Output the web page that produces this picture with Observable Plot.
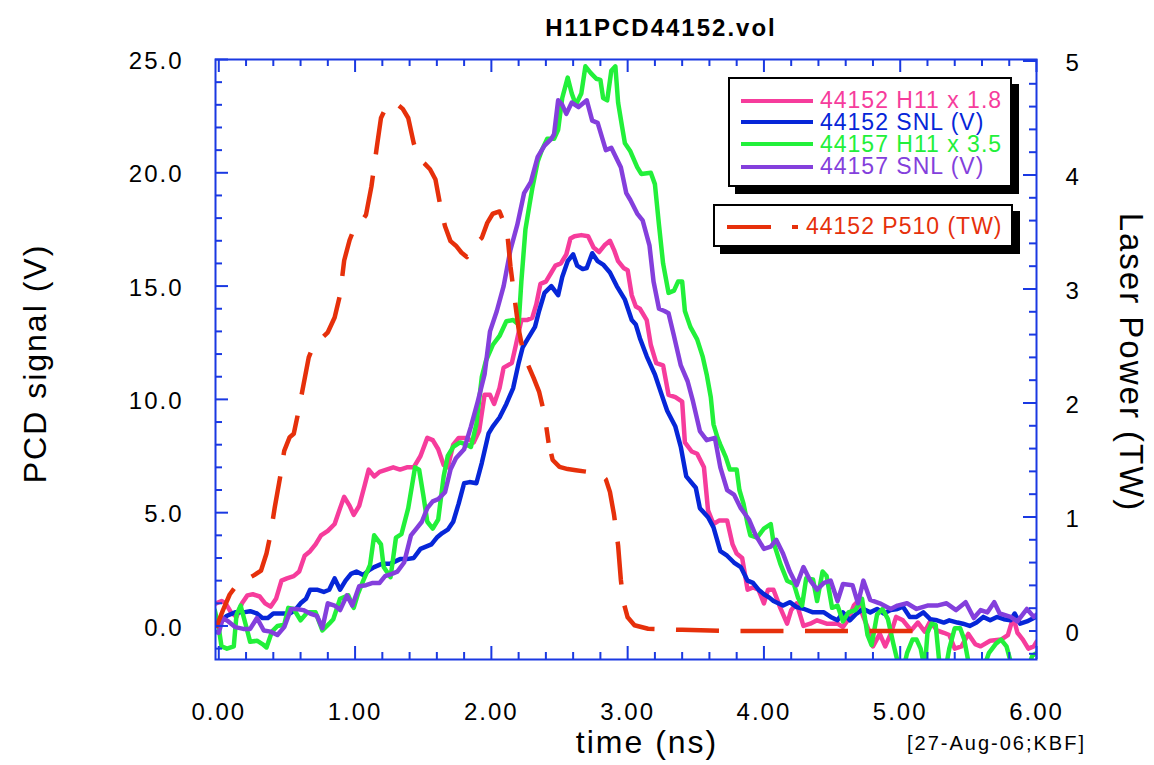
<!DOCTYPE html>
<html>
<head>
<meta charset="utf-8">
<script src="https://cdn.jsdelivr.net/npm/d3@7"></script>
<script src="https://cdn.jsdelivr.net/npm/@observablehq/plot@0.6"></script>
<style>
  html, body { margin: 0; padding: 0; background: #fff; }
  #wrap { position: relative; width: 1154px; height: 765px; font-family: "Liberation Sans", Arial, Helvetica, sans-serif; }
  .box { position: absolute; background: #fff; border: 2px solid #000; box-shadow: 7px 7px 0 #000; box-sizing: border-box; }
  .sw { position: absolute; height: 4px; }
  .lt { position: absolute; font-size: 23px; letter-spacing: 1px; line-height: 21px; height: 21px; white-space: nowrap; }
</style>
</head>
<body>
<div id="wrap"></div>
<script>
// ---------------- data ----------------
const pinkT = [-0.02,0.02,0.05,0.09,0.13,0.17,0.21,0.25,0.30,0.34,0.38,0.42,0.46,0.50,0.55,0.59,0.63,0.67,0.71,0.75,0.80,0.85,0.89,0.92,0.96,0.99,1.03,1.07,1.10,1.14,1.18,1.23,1.28,1.33,1.38,1.43,1.48,1.53,1.57,1.61,1.65,1.68,1.72,1.76,1.82,1.87,1.91,1.95,1.99,2.02,2.06,2.09,2.15,2.18,2.22,2.26,2.30,2.33,2.36,2.40,2.44,2.47,2.51,2.55,2.58,2.61,2.66,2.71,2.75,2.79,2.83,2.87,2.90,2.93,2.97,3.00,3.03,3.06,3.09,3.14,3.17,3.21,3.26,3.30,3.35,3.40,3.42,3.47,3.51,3.56,3.59,3.63,3.67,3.73,3.77,3.80,3.84,3.88,3.92,3.96,4.00,4.03,4.07,4.12,4.17,4.20,4.24,4.29,4.34,4.39,4.46,4.54,4.58,4.62,4.66,4.69,4.73,4.77,4.80,4.85,4.89,4.93,4.97,5.02,5.08,5.13,5.18,5.22,5.27,5.32,5.36,5.40,5.45,5.50,5.55,5.59,5.66,5.74,5.79,5.83,5.86,5.90,5.94,5.98,6.00];
const pinkV = [1.0,1.1,1.0,0.6,0.4,1.0,1.35,1.4,1.3,1.0,0.85,1.2,2.0,2.1,2.2,2.4,3.1,3.3,3.6,4.0,4.2,4.5,5.2,5.7,5.3,4.9,5.3,6.2,6.9,6.6,6.8,6.9,7.0,6.9,7.0,7.0,7.5,8.3,8.2,7.8,7.1,7.0,8.0,8.3,8.3,8.1,8.6,10.2,10.2,9.8,10.5,11.4,11.6,12.4,13.5,13.5,13.6,14.2,15.1,15.2,15.6,15.9,16.0,16.4,17.1,17.2,17.25,17.2,16.7,16.5,16.8,17.0,16.6,16.1,15.8,15.7,14.6,14.1,14.0,13.5,12.4,11.6,11.5,10.2,10.1,9.9,8.1,7.7,7.6,7.0,5.1,4.5,4.65,4.65,3.6,3.2,3.0,1.6,1.7,1.6,1.0,1.6,1.6,0.8,0.1,0.7,1.0,0.0,0.1,0.25,0.1,0.1,-0.05,0.3,0.9,1.1,0.4,-0.2,-0.9,-0.35,-0.9,-0.35,0.4,0.25,-0.2,0.15,-0.25,0.2,-0.2,-0.3,-0.4,-1.0,-0.9,-0.35,-0.8,-0.9,-0.65,-0.6,-0.4,0.4,-0.3,-0.6,-1.0,-0.9,-0.7];

const blueT = [-0.03,0.02,0.06,0.12,0.18,0.23,0.28,0.32,0.36,0.40,0.46,0.52,0.56,0.60,0.64,0.67,0.72,0.77,0.81,0.85,0.89,0.93,0.97,1.01,1.06,1.10,1.14,1.20,1.26,1.33,1.38,1.43,1.48,1.52,1.56,1.60,1.64,1.68,1.72,1.76,1.80,1.84,1.89,1.93,1.98,2.01,2.06,2.11,2.16,2.20,2.23,2.27,2.32,2.35,2.39,2.44,2.49,2.52,2.56,2.60,2.63,2.67,2.70,2.74,2.78,2.82,2.87,2.92,2.98,3.03,3.06,3.09,3.14,3.20,3.25,3.29,3.35,3.39,3.43,3.50,3.53,3.59,3.63,3.68,3.73,3.78,3.83,3.88,3.92,3.96,4.00,4.04,4.07,4.14,4.19,4.24,4.29,4.36,4.44,4.49,4.54,4.58,4.63,4.68,4.73,4.78,4.83,4.88,4.93,4.98,5.02,5.07,5.12,5.17,5.22,5.27,5.32,5.36,5.42,5.46,5.51,5.56,5.61,5.66,5.71,5.76,5.81,5.84,5.88,5.93,5.98,6.00];
const blueV = [0.0,0.25,0.45,0.6,0.6,0.65,0.55,0.35,0.35,0.55,0.55,0.55,0.7,1.0,1.2,1.6,1.6,1.5,1.6,2.1,1.6,2.0,2.3,2.4,2.25,2.45,2.6,2.75,2.75,2.95,2.95,3.0,3.4,3.5,3.6,3.9,4.1,4.25,4.6,5.4,6.3,6.35,6.3,7.2,8.5,8.8,9.2,9.8,10.5,11.6,12.3,12.7,13.2,13.9,14.7,15.0,14.6,15.4,16.1,16.4,15.9,15.75,15.8,16.45,16.1,15.95,15.6,15.0,14.4,13.5,13.3,12.7,11.9,11.1,10.2,9.5,8.8,7.9,6.6,6.1,5.2,4.8,4.35,3.3,3.1,2.8,2.6,2.0,1.9,1.6,1.4,1.25,1.1,0.9,1.05,0.83,0.76,0.6,0.6,0.4,0.25,0.6,0.25,0.55,0.75,0.6,0.75,0.55,0.7,0.75,0.85,0.4,0.4,0.6,0.3,0.25,0.15,0.25,0.15,0.1,0.0,0.15,0.4,0.25,0.4,0.3,0.25,0.55,0.1,0.2,0.35,0.4];

const greenT = [-0.03,0.00,0.02,0.06,0.11,0.13,0.16,0.20,0.23,0.28,0.32,0.35,0.39,0.43,0.48,0.51,0.55,0.60,0.65,0.71,0.76,0.81,0.84,0.89,0.95,0.99,1.02,1.06,1.11,1.14,1.19,1.21,1.26,1.30,1.34,1.39,1.44,1.47,1.50,1.53,1.57,1.61,1.65,1.68,1.72,1.77,1.82,1.85,1.89,1.93,1.96,2.01,2.06,2.11,2.16,2.20,2.22,2.25,2.28,2.30,2.34,2.37,2.41,2.46,2.49,2.52,2.56,2.59,2.62,2.66,2.69,2.73,2.77,2.80,2.82,2.85,2.88,2.91,2.93,2.96,2.98,3.02,3.07,3.10,3.17,3.20,3.23,3.26,3.30,3.34,3.37,3.40,3.42,3.46,3.51,3.55,3.58,3.61,3.63,3.66,3.68,3.72,3.75,3.80,3.82,3.85,3.88,3.90,3.95,4.00,4.05,4.07,4.12,4.17,4.22,4.25,4.28,4.31,4.36,4.39,4.43,4.46,4.50,4.54,4.58,4.62,4.67,4.72,4.76,4.79,4.83,4.87,4.91,4.95,4.99,5.02,5.05,5.09,5.12,5.15,5.18,5.20,5.23,5.26,5.29,5.33,5.36,5.40,5.44,5.47,5.51,5.56,5.61,5.65,5.70,5.74,5.78,5.82,5.87,5.93,5.97,6.00];
const greenV = [0.7,-0.1,-0.9,-1.0,-0.9,0.5,0.9,0.0,-0.7,-0.65,-0.8,-0.95,-0.25,0.0,0.05,0.8,0.75,0.25,0.6,0.6,-0.2,0.1,0.3,1.2,1.35,0.8,1.4,2.0,2.7,4.0,3.6,2.6,2.15,3.9,4.05,5.2,7.0,6.9,5.8,4.6,4.3,4.7,6.6,7.5,7.9,8.1,8.0,7.9,8.9,11.0,11.7,12.4,12.8,13.45,13.5,13.3,15.2,17.5,18.6,19.3,20.5,21.0,21.5,21.5,21.9,23.3,24.2,23.5,23.0,23.5,24.7,24.4,24.15,24.1,23.3,23.2,24.5,24.7,23.1,22.0,21.3,20.95,20.25,19.95,20.0,19.5,17.7,16.0,14.7,14.8,15.2,15.2,13.9,13.2,12.65,11.9,11.1,10.1,8.9,8.3,8.0,7.45,6.9,6.9,6.0,5.4,4.5,4.0,3.9,4.3,4.5,3.7,2.75,2.0,1.85,1.25,0.9,2.1,2.05,1.1,2.4,2.2,0.8,0.9,0.2,0.6,0.7,1.2,-0.4,-0.85,0.5,0.75,0.3,-0.8,-1.8,-2.0,-1.2,-0.6,-0.6,-1.0,-1.9,-0.3,0.1,0.05,-1.8,-2.0,-1.0,-0.1,-0.1,-0.6,-1.9,-2.2,-1.9,-1.2,-0.8,-0.6,-0.9,-1.8,-2.2,-2.0,-1.3,-1.2];

const purpleT = [-0.03,0.00,0.03,0.07,0.12,0.18,0.23,0.28,0.33,0.38,0.43,0.48,0.53,0.57,0.62,0.67,0.72,0.76,0.80,0.85,0.89,0.94,0.98,1.03,1.08,1.13,1.18,1.22,1.27,1.31,1.36,1.41,1.45,1.49,1.53,1.57,1.61,1.66,1.70,1.74,1.80,1.85,1.90,1.95,1.99,2.04,2.09,2.14,2.19,2.24,2.29,2.34,2.39,2.44,2.46,2.49,2.52,2.55,2.59,2.64,2.70,2.74,2.78,2.84,2.88,2.95,2.99,3.02,3.07,3.11,3.16,3.19,3.23,3.27,3.30,3.34,3.39,3.44,3.48,3.53,3.58,3.64,3.68,3.73,3.78,3.83,3.89,3.94,4.00,4.05,4.09,4.14,4.19,4.24,4.29,4.34,4.39,4.44,4.49,4.54,4.58,4.65,4.69,4.73,4.78,4.85,4.93,4.98,5.05,5.12,5.20,5.27,5.34,5.41,5.48,5.54,5.59,5.64,5.69,5.73,5.81,5.86,5.93,5.98,6.00];
const purpleV = [-0.25,-0.3,0.35,0.2,-0.05,-0.13,-0.13,0.35,-0.2,-0.25,-0.4,-0.05,0.75,0.75,0.7,0.55,0.45,-0.1,1.0,0.9,0.7,1.35,0.9,1.75,1.8,1.9,1.9,2.2,2.3,2.4,2.8,4.0,4.3,4.6,5.2,5.5,5.6,5.9,6.9,7.4,7.8,8.8,9.9,11.1,13.0,13.9,15.0,16.6,17.7,19.1,19.6,20.7,21.2,21.5,21.7,23.2,23.0,22.6,23.1,22.9,23.2,22.3,22.2,21.0,21.1,20.25,19.1,18.8,18.2,17.9,16.8,15.2,14.0,13.9,13.8,12.8,11.5,10.8,9.9,8.6,8.2,8.3,7.0,6.0,5.8,5.2,4.7,4.0,3.4,3.5,3.8,3.2,2.4,1.8,2.6,2.0,1.6,1.9,2.0,1.1,1.85,1.8,1.0,2.0,1.15,1.0,0.75,0.9,1.0,0.75,0.9,0.9,1.0,0.7,1.05,0.35,0.7,0.6,1.05,0.55,0.4,0.2,0.75,0.4,0.5];

// laser power, right axis (TW)
const redT = [-0.02,0.03,0.08,0.13,0.20,0.26,0.31,0.35,0.38,0.41,0.45,0.48,0.52,0.55,0.58,0.62,0.66,0.70,0.74,0.80,0.85,0.89,0.92,0.96,1.00,1.04,1.08,1.12,1.16,1.19,1.23,1.27,1.31,1.35,1.39,1.43,1.47,1.51,1.55,1.59,1.63,1.66,1.70,1.74,1.78,1.82,1.85,1.89,1.93,1.97,2.01,2.06,2.10,2.12,2.14,2.17,2.20,2.23,2.27,2.31,2.35,2.39,2.42,2.45,2.50,2.56,2.62,2.68,2.74,2.80,2.84,2.87,2.90,2.93,2.95,2.97,3.00,3.05,3.15,3.40,3.70,4.00,4.40,4.80,5.09];
const redTW = [0.03,0.18,0.32,0.40,0.45,0.49,0.53,0.68,0.85,1.08,1.35,1.58,1.70,1.73,1.90,2.15,2.40,2.52,2.55,2.62,2.75,2.95,3.25,3.43,3.55,3.58,3.65,3.90,4.25,4.50,4.60,4.64,4.62,4.58,4.50,4.28,4.14,4.10,4.05,3.96,3.70,3.55,3.42,3.38,3.32,3.28,3.34,3.40,3.45,3.58,3.66,3.68,3.56,3.45,3.20,2.92,2.65,2.47,2.33,2.22,2.10,1.90,1.65,1.50,1.44,1.42,1.41,1.40,1.39,1.38,1.33,1.22,1.02,0.75,0.45,0.25,0.12,0.05,0.02,0.01,0.0,0.0,0.0,0.0,0.0];

const seriesNames = ["44152 H11 x 1.8", "44152 SNL (V)", "44157 H11 x 3.5", "44157 SNL (V)"];
const redName = "44152 P510 (TW)";

// ticks
const xMajor = [0, 1, 2, 3, 4, 5, 6];
const yMajor = [0, 5, 10, 15, 20, 25];
const twMajor = [0, 1, 2, 3, 4, 5];

// ---------------- styling ----------------
const FONT = '"Liberation Sans", Arial, Helvetica, sans-serif';
const AX = "#1a39e2";
const COL = ["#f63c9c", "#0626d8", "#22f03a", "#843fdc"];
const RED = "#e6300b";

const X0 = -0.0242, X1 = 6.0, Y0 = -1.48, Y1 = 25.0;
const ML = 215, MR = 118, MT = 59, MB = 106, W = 1154, H = 765;
const FW = W - ML - MR, FH = H - MT - MB;
// right axis (TW) expressed in left-axis units
const tw2v = tw => 5.031 * tw - 0.221;

const rows = (T, V) => T.slice(0, Math.min(T.length, V.length)).map((t, i) => ({t, v: V[i]}));
const pink = rows(pinkT, pinkV), blue = rows(blueT, blueV), green = rows(greenT, greenV), purple = rows(purpleT, purpleV);
// the dashed trace is drawn in two runs that meet in a dash gap (t = 2.42):
// the first from the start, the second from the end backwards, so that both ends begin with a dash
const redAll = rows(redT, redTW);
const SPLIT = 2.42;
const redA = redAll.filter(d => d.t <= SPLIT);
const redB = redAll.filter(d => d.t >= SPLIT).reverse();

const xMinor = d3.range(0.2, 6, 0.2).map(d => +d.toFixed(2)).filter(d => Math.abs(d - Math.round(d)) > 1e-6);
const yMinor = d3.range(-1, 25, 1).filter(d => d % 5 !== 0);
const twMinor = d3.range(-0.2, 5.0, 0.2).map(d => +d.toFixed(2)).filter(d => Math.abs(d - Math.round(d)) > 1e-6 || d === 0);

const lineOpts = (c) => ({x: "t", y: "v", stroke: c, strokeWidth: 4.5, strokeLinejoin: "round", strokeLinecap: "round", clip: true});
const redOpts = {x: "t", y: d => tw2v(d.v), stroke: RED, strokeWidth: 4.5, strokeDasharray: "43,21.5", strokeLinecap: "butt", strokeLinejoin: "round", clip: true};

const chart = Plot.plot({
  width: W, height: H,
  marginLeft: ML, marginRight: MR, marginTop: MT, marginBottom: MB,
  x: {domain: [X0, X1]},
  y: {domain: [Y0, Y1]},
  style: {fontFamily: FONT, fontSize: "24px", letterSpacing: "2px", color: "#000", background: "#fff", overflow: "visible"},
  marks: [
    Plot.line(pink, lineOpts(COL[0])),
    Plot.line(blue, lineOpts(COL[1])),
    Plot.line(green, lineOpts(COL[2])),
    Plot.line(purple, lineOpts(COL[3])),
    Plot.line(redA, redOpts),
    Plot.line(redB, redOpts),
    // inward ticks: bottom / top
    Plot.ruleX(xMinor, {x: d => d, stroke: AX, strokeWidth: 2, insetTop: FH - 7}),
    Plot.ruleX(xMajor, {x: d => d, stroke: AX, strokeWidth: 2, insetTop: FH - 13}),
    Plot.ruleX(xMinor, {x: d => d, stroke: AX, strokeWidth: 2, insetBottom: FH - 7}),
    Plot.ruleX(xMajor, {x: d => d, stroke: AX, strokeWidth: 2, insetBottom: FH - 13}),
    // left ticks
    Plot.ruleY(yMinor, {y: d => d, stroke: AX, strokeWidth: 2, insetRight: FW - 7}),
    Plot.ruleY(yMajor, {y: d => d, stroke: AX, strokeWidth: 2, insetRight: FW - 13}),
    // right ticks (TW)
    Plot.ruleY(twMinor, {y: d => tw2v(d), stroke: AX, strokeWidth: 2, insetLeft: FW - 7}),
    Plot.ruleY(twMajor.filter(d => d > 0), {y: d => tw2v(d), stroke: AX, strokeWidth: 2, insetLeft: FW - 13}),
    Plot.frame({stroke: AX, strokeWidth: 2}),
    // tick labels
    Plot.axisX(xMajor, {anchor: "bottom", tickFormat: d => d.toFixed(2), tickSize: 0, tickPadding: 43, label: null}),
    Plot.axisY(yMajor, {anchor: "left", tickFormat: d => d.toFixed(1), tickSize: 0, tickPadding: 32, label: null, dy: 2}),
    Plot.text(twMajor, {frameAnchor: "right", y: d => tw2v(d), text: d => String(d), textAnchor: "start", dx: 29, dy: 2}),
    // titles
    Plot.text(["H11PCD44152.vol"], {frameAnchor: "top", text: d => d, textAnchor: "middle", dy: -41, dx: 35, fontWeight: "bold", fontSize: 24, letterSpacing: "3px"}),
    Plot.text(["PCD signal (V)"], {frameAnchor: "left", text: d => d, textAnchor: "middle", rotate: -90, dx: -180, dy: 4, fontSize: 32}),
    Plot.text(["Laser Power (TW)"], {frameAnchor: "right", text: d => d, textAnchor: "middle", rotate: 90, dx: 94, dy: 3, fontSize: 33}),
    Plot.text(["time (ns)"], {frameAnchor: "bottom", text: d => d, textAnchor: "middle", dx: 21, dy: 93, fontSize: 32}),
    Plot.text(["[27-Aug-06;KBF]"], {frameAnchor: "bottom-right", text: d => d, dx: -40, dy: 90, textAnchor: "middle", fontSize: 20, letterSpacing: "1px"})
  ]
});

const wrap = document.getElementById("wrap");
wrap.appendChild(chart);

// ---------------- legend (overlay) ----------------
function el(cls, css, txt) {
  const d = document.createElement("div");
  d.className = cls;
  Object.assign(d.style, css);
  if (txt !== undefined) d.textContent = txt;
  wrap.appendChild(d);
  return d;
}
el("box", {left: "728px", top: "77px", width: "284px", height: "110px"});
const rowY = [100.7, 122.3, 144, 166.7];
seriesNames.forEach((name, i) => {
  el("sw", {left: "741px", top: (rowY[i] - 2) + "px", width: "72px", background: COL[i]});
  el("lt", {left: "820px", top: (rowY[i] - 10.5) + "px", color: COL[i]}, name);
});
el("box", {left: "713px", top: "204px", width: "300px", height: "43px"});
el("sw", {left: "727px", top: "224.7px", width: "44px", background: RED});
el("sw", {left: "792px", top: "224.7px", width: "6px", background: RED});
el("lt", {left: "806px", top: "216.2px", color: RED}, redName);
</script>
</body>
</html>
